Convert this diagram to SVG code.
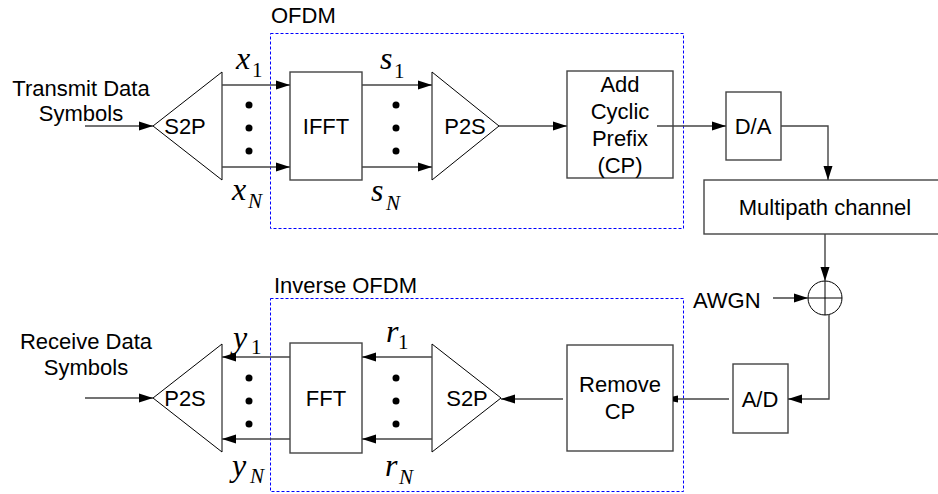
<svg xmlns="http://www.w3.org/2000/svg" width="938" height="494" viewBox="0 0 938 494">
<style>
.t{font-family:"Liberation Sans",Arial,sans-serif;font-size:22px;fill:#000;text-anchor:middle}
.tl{font-family:"Liberation Sans",Arial,sans-serif;font-size:22px;fill:#000}
.m{font-family:"Liberation Serif","Times New Roman",serif;font-style:italic;font-size:32px;fill:#000}
.s{font-family:"Liberation Serif","Times New Roman",serif;font-size:21px;fill:#000}
.si{font-family:"Liberation Serif","Times New Roman",serif;font-style:italic;font-size:21px;fill:#000}
.box{fill:#fff;stroke:#444;stroke-width:1.4}
.tri{fill:#fff;stroke:#000;stroke-width:1}
.dash{fill:none;stroke:#0000ff;stroke-width:1;stroke-dasharray:3 2}
.c{fill:none;stroke:#444;stroke-width:1.4}
.dot{fill:#000}
</style>
<defs>
<marker id="ah" markerUnits="userSpaceOnUse" markerWidth="14" markerHeight="10" refX="14" refY="5" orient="auto"><path d="M0,0.5 L14,5 L0,9.5 Z" fill="#000"/></marker>
<marker id="ahs" markerUnits="userSpaceOnUse" markerWidth="5" markerHeight="8" refX="5" refY="4" orient="auto"><path d="M0,0.5 L5,1.5 L5,6.5 L0,7.5 Z" fill="#000"/></marker>
</defs>

<g id="ofdm-group">
<rect class="dash" x="270.5" y="33.5" width="413" height="195"/>
<text class="tl" x="271" y="23">OFDM</text>
</g>
<g id="inverse-ofdm-group">
<rect class="dash" x="270.5" y="298.5" width="413" height="193"/>
<text class="tl" x="274" y="293">Inverse OFDM</text>
</g>

<g id="tx-input">
<text class="t" x="81" y="96">Transmit Data</text>
<text class="t" x="81" y="121">Symbols</text>
</g>
<g id="tx-s2p">
<polygon class="tri" points="222,72 222,180 153,126"/>
<text class="t" x="185" y="134">S2P</text>
</g>
<g id="ifft">
<rect class="box" x="290" y="72" width="72" height="108"/>
<text class="t" x="326" y="134">IFFT</text>
</g>
<g id="tx-p2s">
<polygon class="tri" points="432,72 432,180 499,126"/>
<text class="t" x="465" y="134">P2S</text>
</g>
<g id="add-cp">
<rect class="box" x="567" y="71" width="106" height="107"/>
<text class="t" x="620" y="92">Add</text>
<text class="t" x="620" y="119">Cyclic</text>
<text class="t" x="620" y="146">Prefix</text>
<text class="t" x="620" y="173">(CP)</text>
</g>
<g id="da">
<rect class="box" x="726" y="92" width="55" height="68"/>
<text class="t" x="753" y="134">D/A</text>
</g>
<g id="multipath">
<rect class="box" x="704" y="180" width="240" height="54"/>
<text class="t" x="825" y="215">Multipath channel</text>
</g>
<g id="sum">
<circle cx="825" cy="298" r="17" fill="#fff" stroke="#000" stroke-width="1"/>
<path d="M808,298 H842 M825,281 V315" stroke="#000" stroke-width="1"/>
</g>
<g id="awgn">
<text class="tl" x="693" y="308">AWGN</text>
</g>
<g id="ad">
<rect class="box" x="733" y="364" width="55" height="69"/>
<text class="t" x="760" y="407">A/D</text>
</g>
<g id="remove-cp">
<rect class="box" x="567" y="345" width="106" height="106"/>
<text class="t" x="620" y="392">Remove</text>
<text class="t" x="620" y="419">CP</text>
</g>
<g id="rx-s2p">
<polygon class="tri" points="432,344 432,452 501,398"/>
<text class="t" x="467" y="406">S2P</text>
</g>
<g id="fft">
<rect class="box" x="290" y="343" width="72" height="110"/>
<text class="t" x="326" y="406">FFT</text>
</g>
<g id="rx-p2s">
<polygon class="tri" points="222,344 222,452 153,398"/>
<text class="t" x="185" y="406">P2S</text>
</g>
<g id="rx-output">
<text class="t" x="86" y="349">Receive Data</text>
<text class="t" x="86" y="375">Symbols</text>
</g>

<g id="labels">
<text class="m" x="236" y="69">x</text><text class="s" x="252" y="77">1</text>
<text class="m" x="232" y="200">x</text><text class="si" x="248" y="208">N</text>
<text class="m" x="380" y="69">s</text><text class="s" x="394" y="78">1</text>
<text class="m" x="371" y="201">s</text><text class="si" x="386" y="210">N</text>
<text class="m" x="233" y="348">y</text><text class="s" x="251" y="354">1</text>
<text class="m" x="232" y="476">y</text><text class="si" x="250" y="483">N</text>
<text class="m" x="386" y="342">r</text><text class="s" x="398" y="349">1</text>
<text class="m" x="385" y="476">r</text><text class="si" x="399" y="484">N</text>
</g>
<g id="dots">
<circle class="dot" cx="249" cy="105" r="3.5"/><circle class="dot" cx="249" cy="128" r="3.5"/><circle class="dot" cx="249" cy="151" r="3.5"/>
<circle class="dot" cx="396" cy="105" r="3.5"/><circle class="dot" cx="396" cy="128" r="3.5"/><circle class="dot" cx="396" cy="151" r="3.5"/>
<circle class="dot" cx="249" cy="378" r="3.5"/><circle class="dot" cx="249" cy="401" r="3.5"/><circle class="dot" cx="249" cy="424" r="3.5"/>
<circle class="dot" cx="396" cy="378" r="3.5"/><circle class="dot" cx="396" cy="401" r="3.5"/><circle class="dot" cx="396" cy="424" r="3.5"/>
</g>

<g id="connectors">
<path class="c" d="M85,126 H153" marker-end="url(#ah)"/>
<path class="c" d="M222,85 H290" marker-end="url(#ah)"/>
<path class="c" d="M222,167 H290" marker-end="url(#ah)"/>
<path class="c" d="M362,85 H432" marker-end="url(#ah)"/>
<path class="c" d="M362,167 H432" marker-end="url(#ah)"/>
<path class="c" d="M499,126 H567" marker-end="url(#ah)"/>
<path class="c" d="M657,126 H726" marker-end="url(#ah)"/>
<path class="c" d="M781,126 H828 V180" marker-end="url(#ah)"/>
<path class="c" d="M825,234 V281" marker-end="url(#ah)"/>
<path class="c" d="M773,298 H808" marker-end="url(#ah)"/>
<path class="c" d="M829,315 V399 H788" marker-end="url(#ah)"/>
<path class="c" d="M729,399 H673" marker-end="url(#ahs)"/>
<path class="c" d="M563,399 H501" marker-end="url(#ah)"/>
<path class="c" d="M432,357 H362" marker-end="url(#ah)"/>
<path class="c" d="M432,439 H362" marker-end="url(#ah)"/>
<path class="c" d="M290,357 H222" marker-end="url(#ah)"/>
<path class="c" d="M290,439 H222" marker-end="url(#ah)"/>
<path class="c" d="M85,398 H153" marker-end="url(#ah)"/>
</g>
</svg>
